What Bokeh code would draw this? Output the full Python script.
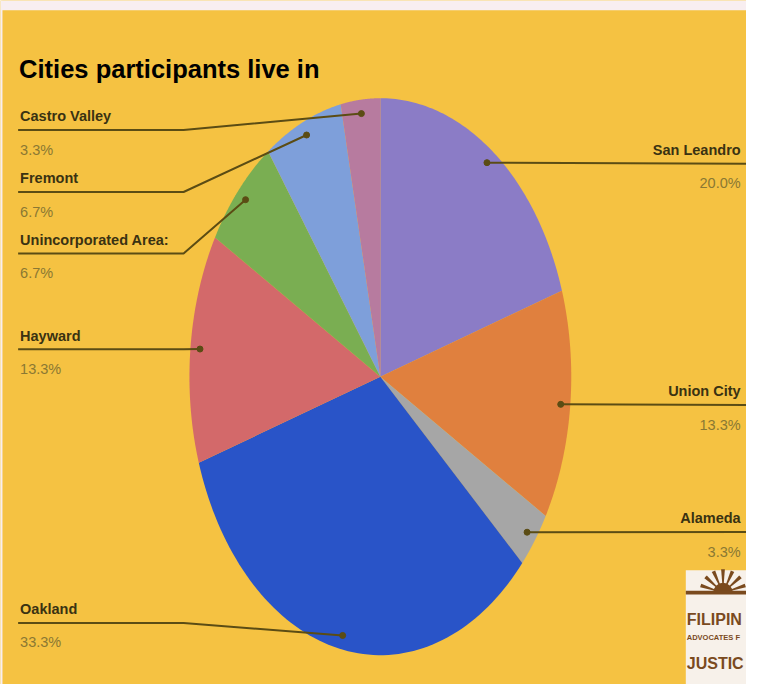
import numpy as np
from bokeh.plotting import figure
from bokeh.models import Range1d, ColumnDataSource
from bokeh.core.properties import value
from bokeh.embed import file_html
from bokeh.resources import INLINE

# ---- data ----
cities = ["San Leandro", "Union City", "Alameda", "Oakland", "Hayward",
          "Unincorporated Area:", "Fremont", "Castro Valley"]
counts = [6, 4, 1, 10, 4, 2, 2, 1]
colors = ["#8B7CC6", "#E0803E", "#A6A6A6", "#2954C8", "#D3696A",
          "#7AAE52", "#7E9FDA", "#B77B9F"]
title = "Cities participants live in"
logo_lines = ["FILIPIN", "ADVOCATES F", "JUSTIC"]

# ---- layout (reference-pixel data space) ----
sides = ["right", "right", "right", "left", "left", "left", "left", "left"]
label_line_y = [167, 414, 544, 637, 357, 259, 196, 132.5]
CX, CY, RX, RY = 388, 385, 195, 285
BG = "#F5C242"
LINE = "#5B4C14"
NAME_C = "#3A3212"
PCT_C = "#8A7833"
FONT = "Liberation Sans"

p = figure(width=746, height=684, output_backend="svg", toolbar_location=None,
           x_range=Range1d(0, 762), y_range=Range1d(700, 0),
           min_border=0, background_fill_color=BG, border_fill_color=BG)
p.axis.visible = False
p.grid.visible = False
p.outline_line_color = None

# top light strip and left edge
p.quad(left=0, right=762, top=0, bottom=10, fill_color="#F8EEF0", line_color=None)
p.quad(left=0, right=2, top=0, bottom=700, fill_color="#F8EEF0", line_color=None)

total = float(sum(counts))
fracs = np.array(counts) / total
ends = np.cumsum(fracs) * 2 * np.pi
starts = ends - fracs * 2 * np.pi

xs, ys = [], []
for a0, a1 in zip(starts, ends):
    t = np.linspace(a0, a1, 80)
    xs.append([CX] + list(CX + RX * np.sin(t)) + [CX])
    ys.append([CY] + list(CY - RY * np.cos(t)) + [CY])
p.patches(xs, ys, fill_color=colors, line_color=None)

# leader lines
mids = (starts + ends) / 2
dot_x = CX + 0.95 * RX * np.sin(mids)
dot_y = CY - 0.95 * RY * np.cos(mids)
lx, ly = [], []
name_x, name_y, pct_y, align = [], [], [], []
for i, s in enumerate(sides):
    L = label_line_y[i]
    if s == "left":
        lx.append([18, 187, dot_x[i]])
        ly.append([L, L, dot_y[i]])
        name_x.append(20)
        align.append("left")
    else:
        lx.append([dot_x[i], 762])
        ly.append([dot_y[i], L])
        name_x.append(756)
        align.append("right")
    name_y.append(L - 14)
    pct_y.append(L + 20)
p.multi_line(lx, ly, line_color=LINE, line_width=2)
p.scatter(dot_x, dot_y, size=6, fill_color=LINE, line_color=LINE)

pcts = [f"{100 * c / total:.1f}%" for c in counts]
src = ColumnDataSource(dict(x=name_x, ny=name_y, py=pct_y, name=cities,
                            pct=pcts, align=align))
p.text(x="x", y="ny", text="name", source=src, text_align="align",
       text_baseline="alphabetic", text_font=value(FONT), text_font_style="bold",
       text_font_size="14.5px", text_color=NAME_C)
p.text(x="x", y="py", text="pct", source=src, text_align="align",
       text_baseline="alphabetic", text_font=value(FONT),
       text_font_size="14.5px", text_color=PCT_C)

# title
p.text(x=[19], y=[70], text=[title], text_font=value(FONT), text_font_style="bold",
       text_font_size="25.5px", text_color="#000000", text_baseline="alphabetic")

# logo (decoration)
BROWN = "#7A4A1E"
p.quad(left=700, right=762, top=583, bottom=700, fill_color="#F7F1EA", line_color=None)
ray_a = np.linspace(np.pi * 0.1, np.pi * 0.9, 7)
p.wedge(x=[738] * 7, y=[606] * 7, radius=24, start_angle=list(ray_a - 0.08),
        end_angle=list(ray_a + 0.08), fill_color=BROWN, line_color=None)
p.wedge(x=[738], y=[606], radius=10, start_angle=0, end_angle=np.pi,
        fill_color=BROWN, line_color=None)
p.quad(left=700, right=762, top=604, bottom=608, fill_color=BROWN, line_color=None)
p.text(x=[701], y=[633], text=[logo_lines[0]], text_font=value(FONT), text_font_style="bold",
       text_font_size="16px", text_color=BROWN, text_baseline="alphabetic")
p.text(x=[701], y=[652], text=[logo_lines[1]], text_font=value(FONT), text_font_style="bold",
       text_font_size="7.5px", text_color=BROWN, text_baseline="alphabetic")
p.text(x=[701], y=[678], text=[logo_lines[2]], text_font=value(FONT), text_font_style="bold",
       text_font_size="16px", text_color=BROWN, text_baseline="alphabetic")

open("out.html", "w").write(file_html(p, INLINE))
